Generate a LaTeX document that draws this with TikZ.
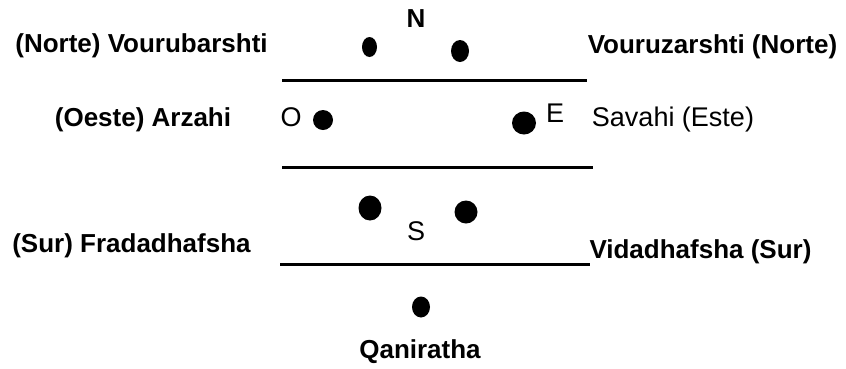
\documentclass[tikz,border=0pt]{standalone}
\usepackage{fontspec}
\setmainfont{Liberation Sans}
\usetikzlibrary{calc}
\tikzset{
  lab/.style={inner sep=0pt,font=\fontsize{26}{30}\selectfont\bfseries},
  thin lab/.style={inner sep=0pt,font=\fontsize{27}{30}\selectfont},
  band/.style={line width=3pt}
}

\begin{document}
\begin{tikzpicture}[x=1pt,y=-1pt]
\useasboundingbox (0,0) rectangle (846,368);
% labels round the figure
\node[lab] (vourubarshti) at (141.5,46) {(Norte) Vourubarshti};
\node[lab] (vouruzarshti) at (712.5,47) {Vouruzarshti (Norte)};
\node[lab] (arzahi) at (143,120) {(Oeste) Arzahi};
\node[thin lab] (savahi) at (673,120) {Savahi (Este)};
\node[lab] (fradadhafsha) at (131.5,246) {(Sur) Fradadhafsha};
\node[lab] (vidadhafsha) at (700.5,252) {Vidadhafsha (Sur)};
\node[lab] (qaniratha) at (420,352) {Qaniratha};
% letters
\node[lab] (north) at (416,19) {N};
\node[thin lab] (west) at (291,117) {O};
\node[thin lab] (east) at (555,113) {E};
\node[thin lab] (south) at (416,231) {S};
% lines
\coordinate (a1) at (282,80);  \coordinate (a2) at (587,80);
\coordinate (b1) at (282,167); \coordinate (b2) at (593,167);
\coordinate (c1) at (280,264); \coordinate (c2) at (590,264);
\draw[band] (a1)--(a2);
\draw[band] (b1)--(b2);
\draw[band] (c1)--(c2);
% dots
\fill (369.5,47) ellipse [x radius=7.5pt,y radius=10pt];
\fill (460,51) ellipse [x radius=9pt,y radius=11pt];
\fill (323,120) ellipse [x radius=10pt,y radius=10pt];
\fill (524,123) ellipse [x radius=12pt,y radius=11.5pt];
\fill (370,208) ellipse [x radius=11.5pt,y radius=12.5pt];
\fill (466,212) ellipse [x radius=11.5pt,y radius=11.5pt];
\fill (421,307) ellipse [x radius=9pt,y radius=10.5pt];
\end{tikzpicture}
\end{document}
